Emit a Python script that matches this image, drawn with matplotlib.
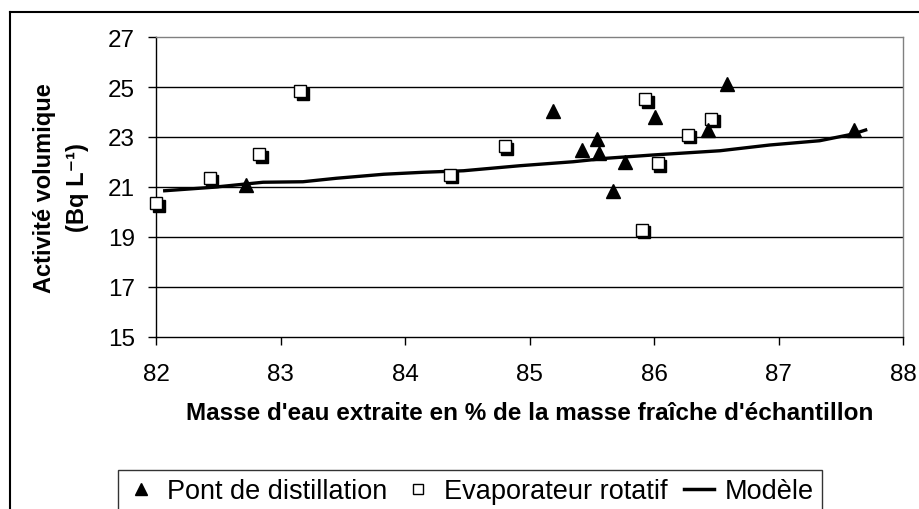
"""Activite volumique vs masse d'eau extraite - scatter with model line."""

import matplotlib
matplotlib.use("Agg")
import matplotlib.pyplot as plt
import matplotlib.transforms as mtransforms
from matplotlib.lines import Line2D

plt.rcParams['font.family'] = ['Liberation Sans', 'DejaVu Sans']

# Pont de distillation (triangles)
pont_x = [82.72, 85.19, 85.42, 85.54, 85.56, 85.77, 85.67, 86.01, 86.43, 86.59, 87.61]
pont_y = [21.09, 24.05, 22.49, 22.92, 22.35, 22.01, 20.84, 23.81, 23.28, 25.12, 23.28]

# Evaporateur rotatif (squares)
evap_x = [82.00, 82.43, 82.83, 83.16, 84.36, 84.80, 85.93, 85.90, 86.03, 86.27, 86.46]
evap_y = [20.35, 21.35, 22.32, 24.84, 21.49, 22.64, 24.52, 19.29, 21.95, 23.09, 23.73]

# Modele
model_x = [82.07, 82.46, 82.86, 83.18, 83.45, 83.83, 84.15, 84.47, 84.92,
           85.35, 85.62, 85.99, 86.53, 86.93, 87.33, 87.60, 87.70]
model_y = [20.85, 20.99, 21.19, 21.21, 21.35, 21.51, 21.59, 21.65, 21.85,
           22.01, 22.15, 22.28, 22.45, 22.68, 22.85, 23.12, 23.28]

x_ticks = [82, 83, 84, 85, 86, 87, 88]
y_ticks = [15, 17, 19, 21, 23, 25, 27]

fig = plt.figure(figsize=(9.2, 5.1), dpi=100)
ax = fig.add_axes([156 / 920, 1 - 338 / 510, 747 / 920, 300 / 510])

# outer chart frame (left and top only visible)
fig.add_artist(Line2D([10 / 920, 10 / 920], [0, 1 - 12.5 / 510],
                      transform=fig.transFigure, color='black', lw=1.5))
fig.add_artist(Line2D([10 / 920, 1], [1 - 12.5 / 510, 1 - 12.5 / 510],
                      transform=fig.transFigure, color='black', lw=1.5))

# gridlines
for yv in y_ticks[1:-1]:
    ax.axhline(yv, color='black', lw=1.0, zorder=1)

# model line
ax.plot(model_x, model_y, color='black', lw=2.4, zorder=2)

# triangles
ax.plot(pont_x, pont_y, linestyle='none', marker='^', ms=10.5,
        color='black', zorder=4)

# squares with drop shadow
shadow = mtransforms.offset_copy(ax.transData, fig=fig, x=2.5, y=-2.5, units='dots')
ax.plot(evap_x, evap_y, linestyle='none', marker='s', ms=9,
        color='black', transform=shadow, zorder=3, clip_on=False)
ax.plot(evap_x, evap_y, linestyle='none', marker='s', ms=9,
        markerfacecolor='white', markeredgecolor='black', markeredgewidth=1.0,
        zorder=3.5, clip_on=False)

ax.set_xlim(82, 88)
ax.set_ylim(15, 27)
ax.set_xticks(x_ticks)
ax.set_yticks(y_ticks)
ax.tick_params(axis='both', direction='out', length=5.5, width=1,
               labelsize=17.5, color='black')
ax.tick_params(axis='x', pad=13.5)
ax.tick_params(axis='y', pad=9.5)

ax.spines['left'].set_color('black')
ax.spines['bottom'].set_color('black')
ax.spines['top'].set_color('#808080')
ax.spines['right'].set_color('#808080')
for sp in ax.spines.values():
    sp.set_linewidth(1.0)

ax.set_xlabel("Masse d'eau extraite en % de la masse fraîche d'échantillon",
              fontsize=17.5, fontweight='bold', labelpad=11)
ax.set_ylabel("Activité volumique\n(Bq L⁻¹)",
              fontsize=17, fontweight='bold', labelpad=14, linespacing=1.55)

handles = [
    Line2D([], [], linestyle='none', marker='^', ms=8.5, color='black'),
    Line2D([], [], linestyle='none', marker='s', ms=7.5, markerfacecolor='white',
           markeredgecolor='black', markeredgewidth=1.0),
    Line2D([], [], color='black', lw=2.5),
]
labels = ["Pont de distillation", "Evaporateur rotatif", "Modèle"]
leg = fig.legend(handles, labels, loc='upper left',
                 bbox_to_anchor=(118 / 920, 1 - 471 / 510), ncol=3,
                 fontsize=19.5, frameon=True, fancybox=False,
                 handlelength=1.1, handletextpad=0.4, columnspacing=0.6,
                 borderpad=0.3, borderaxespad=0)
leg.get_frame().set_edgecolor('black')
leg.get_frame().set_linewidth(1.0)

fig.savefig("out.png", dpi=100)
